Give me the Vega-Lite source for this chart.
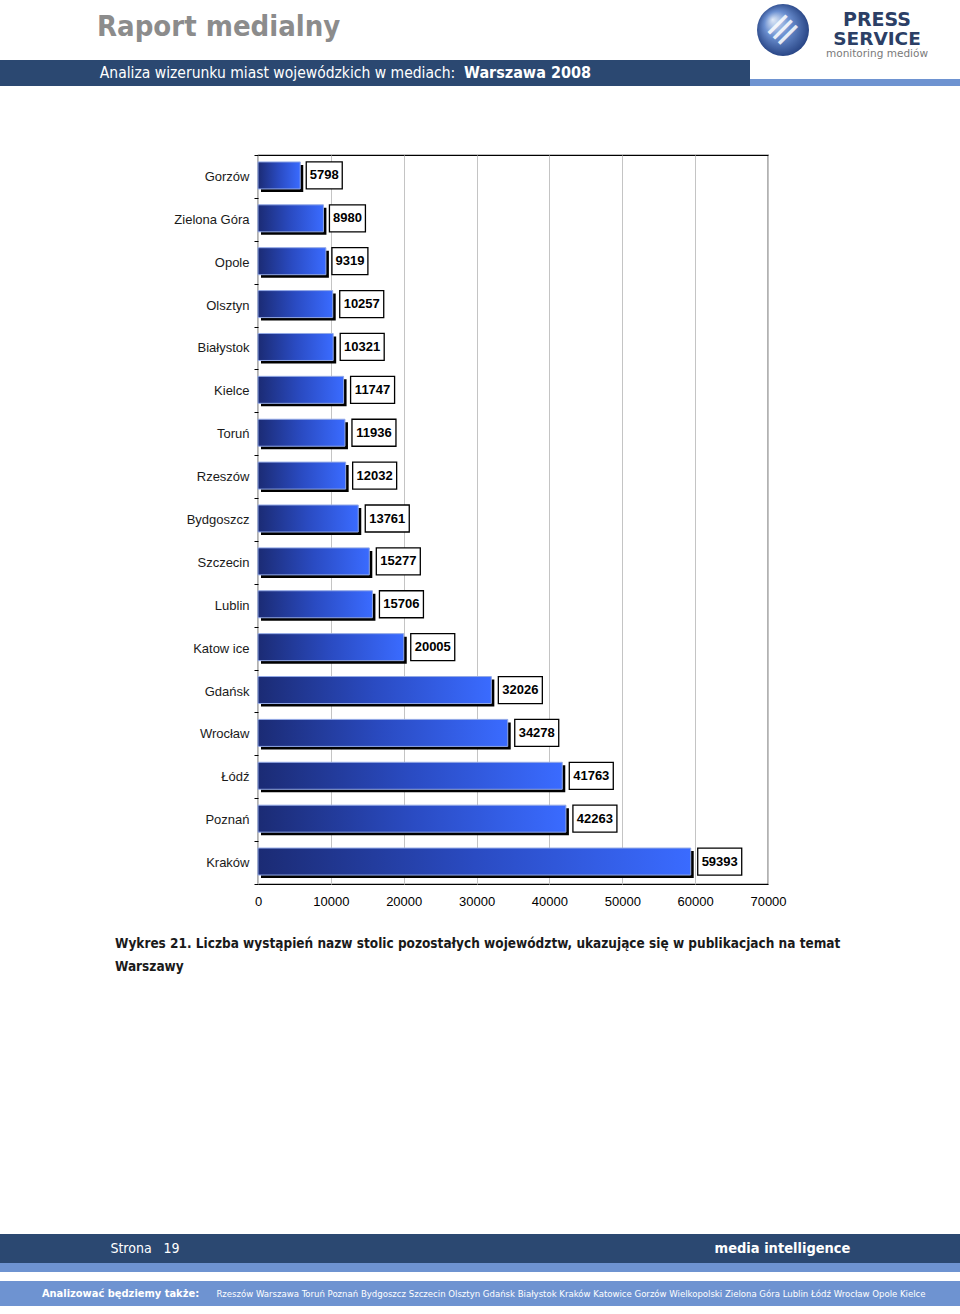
{
  "$schema": "https://vega.github.io/schema/vega-lite/v6.json",
  "padding": 0,
  "background": "white",
  "spacing": 0,
  "bounds": "full",
  "config": {"view": {"stroke": null}, "concat": {"spacing": 0}, "font": "Liberation Sans", "text": {"fontSize": 1}},
  "datasets": {
    "one": [{}],
    "cities": [
      {"city": "Gorzów", "value": 5798},
      {"city": "Zielona Góra", "value": 8980},
      {"city": "Opole", "value": 9319},
      {"city": "Olsztyn", "value": 10257},
      {"city": "Białystok", "value": 10321},
      {"city": "Kielce", "value": 11747},
      {"city": "Toruń", "value": 11936},
      {"city": "Rzeszów", "value": 12032},
      {"city": "Bydgoszcz", "value": 13761},
      {"city": "Szczecin", "value": 15277},
      {"city": "Lublin", "value": 15706},
      {"city": "Katow ice", "value": 20005},
      {"city": "Gdańsk", "value": 32026},
      {"city": "Wrocław", "value": 34278},
      {"city": "Łódź", "value": 41763},
      {"city": "Poznań", "value": 42263},
      {"city": "Kraków", "value": 59393}
    ]
  },
  "vconcat": [
    {"spacing": 0, "bounds": "flush", "hconcat": [
      {"width": 194, "height": 60, "data": {"name": "one"}, "mark": {"type": "text", "align": "left", "font": "DejaVu Sans Condensed", "fontSize": 29, "fontWeight": "bold", "color": "#8c8c8c", "dy": -3}, "encoding": {"text": {"value": "Raport medialny"}}},
      {"width": 563, "height": 60, "data": {"name": "one"}, "mark": "text", "encoding": {"text": {"value": ""}}},
      {"width": 52, "height": 60, "data": {"name": "one"}, "layer": [
        {"mark": {"type": "point", "shape": "circle", "size": 2700, "filled": true, "opacity": 1, "strokeWidth": 0, "fill": {"gradient": "radial", "x1": 0.3, "y1": 0.3, "r1": 0, "x2": 0.5, "y2": 0.5, "r2": 0.55, "stops": [{"offset": 0, "color": "#dfe9f7"}, {"offset": 0.45, "color": "#6b8fd0"}, {"offset": 1, "color": "#203c7c"}]}}, "encoding": {}},
        {"mark": {"type": "text", "font": "DejaVu Sans", "fontSize": 40, "color": "white", "opacity": 0.85, "angle": -45}, "encoding": {"text": {"value": "≡"}}}
      ]},
      {"width": 136, "height": 60, "data": {"name": "one"}, "layer": [
        {"mark": {"type": "text", "font": "DejaVu Sans", "fontSize": 19, "fontWeight": "bold", "color": "#2c3f66", "dy": -10}, "encoding": {"text": {"value": "PRESS"}}},
        {"mark": {"type": "text", "font": "DejaVu Sans", "fontSize": 18.5, "fontWeight": "bold", "color": "#2c3f66", "dy": 9}, "encoding": {"text": {"value": "SERVICE"}}},
        {"mark": {"type": "text", "font": "DejaVu Sans", "fontSize": 10.5, "color": "#7a7a7a", "dy": 24}, "encoding": {"text": {"value": "monitoring mediów"}}}
      ]},
      {"width": 15, "height": 60, "data": {"name": "one"}, "mark": "text", "encoding": {"text": {"value": ""}}}
    ]},
    {"spacing": 0, "bounds": "flush", "hconcat": [
      {"width": 97, "height": 26, "view": {"fill": "#2b4871"}, "data": {"name": "one"}, "mark": "text", "encoding": {"text": {"value": ""}}},
      {"width": 361, "height": 26, "view": {"fill": "#2b4871"}, "data": {"name": "one"}, "mark": {"type": "text", "font": "DejaVu Sans Condensed", "fontSize": 15.5, "color": "white"}, "encoding": {"text": {"value": "Analiza wizerunku miast wojewódzkich w mediach:"}}},
      {"width": 139, "height": 26, "view": {"fill": "#2b4871"}, "data": {"name": "one"}, "mark": {"type": "text", "font": "DejaVu Sans Condensed", "fontSize": 16, "fontWeight": "bold", "color": "white"}, "encoding": {"text": {"value": "Warszawa 2008"}}},
      {"width": 153, "height": 26, "view": {"fill": "#2b4871"}, "data": {"name": "one"}, "mark": "text", "encoding": {"text": {"value": ""}}},
      {"width": 210, "height": 26, "view": {"fill": {"gradient": "linear", "x1": 0, "y1": 0, "x2": 0, "y2": 1, "stops": [{"offset": 0, "color": "#ffffff"}, {"offset": 0.72, "color": "#ffffff"}, {"offset": 0.73, "color": "#6e93d1"}, {"offset": 1, "color": "#6e93d1"}]}}, "data": {"name": "one"}, "mark": "text", "encoding": {"text": {"value": ""}}}
    ]},
    {"width": 960, "height": 62, "data": {"name": "one"}, "mark": "text", "encoding": {"text": {"value": ""}}},
    {"spacing": 0, "bounds": "flush", "hconcat": [
      {"width": 258, "height": 729, "data": {"name": "one"}, "mark": "text", "encoding": {"text": {"value": ""}}},
      {
        "width": 510,
        "height": 729,
        "data": {"name": "cities"},
        "view": {"stroke": "#000000", "strokeWidth": 1.2},
        "encoding": {
          "y": {
            "field": "city", "type": "nominal", "sort": null,
            "scale": {"paddingInner": 0, "paddingOuter": 0},
            "axis": {"title": null, "domain": false, "ticks": true, "tickBand": "extent", "tickSize": 4, "tickColor": "#000000", "labelFont": "Liberation Sans", "labelFontSize": 13, "labelColor": "#1a1a1a", "labelPadding": 5, "grid": false}
          }
        },
        "layer": [
          {
            "mark": {"type": "bar", "height": 27, "fill": "#000000", "xOffset": 3, "x2Offset": 3, "yOffset": 2},
            "encoding": {"x": {"field": "value", "type": "quantitative", "scale": {"domain": [0, 70000], "nice": false}, "axis": {"title": null, "domain": false, "ticks": false, "grid": true, "gridColor": "#c4c4c4", "gridWidth": 1, "values": [0, 10000, 20000, 30000, 40000, 50000, 60000, 70000], "format": "d", "labelFont": "Liberation Sans", "labelFontSize": 13, "labelColor": "#000000", "labelPadding": 11, "labelFlush": false}}}
          },
          {
            "mark": {"type": "bar", "height": 27, "yOffset": -1, "stroke": "#93a9e6", "strokeWidth": 1, "fill": {"gradient": "linear", "x1": 0, "y1": 0, "x2": 1, "y2": 0, "stops": [{"offset": 0, "color": "#1b2b74"}, {"offset": 0.5, "color": "#2a4bc2"}, {"offset": 1, "color": "#3a6bff"}]}},
            "encoding": {"x": {"field": "value", "type": "quantitative"}}
          },
          {
            "transform": [{"filter": "datum.value < 10000"}],
            "mark": {"type": "bar", "height": 27, "yOffset": -1, "fill": "white", "stroke": "#000000", "strokeWidth": 1.3, "xOffset": 6, "x2Offset": 42},
            "encoding": {"x": {"field": "value", "type": "quantitative"}, "x2": {"field": "value"}}
          },
          {
            "transform": [{"filter": "datum.value >= 10000"}],
            "mark": {"type": "bar", "height": 27, "yOffset": -1, "fill": "white", "stroke": "#000000", "strokeWidth": 1.3, "xOffset": 7, "x2Offset": 51},
            "encoding": {"x": {"field": "value", "type": "quantitative"}, "x2": {"field": "value"}}
          },
          {
            "transform": [{"filter": "datum.value < 10000"}],
            "mark": {"type": "text", "align": "center", "dx": 24, "dy": -1, "font": "Liberation Sans", "fontSize": 13, "fontWeight": "bold", "color": "#000000"},
            "encoding": {"x": {"field": "value", "type": "quantitative"}, "text": {"field": "value", "type": "quantitative", "format": "d"}}
          },
          {
            "transform": [{"filter": "datum.value >= 10000"}],
            "mark": {"type": "text", "align": "center", "dx": 29, "dy": -1, "font": "Liberation Sans", "fontSize": 13, "fontWeight": "bold", "color": "#000000"},
            "encoding": {"x": {"field": "value", "type": "quantitative"}, "text": {"field": "value", "type": "quantitative", "format": "d"}}
          }
        ]
      },
      {"width": 192, "height": 729, "data": {"name": "one"}, "mark": "text", "encoding": {"text": {"value": ""}}}
    ]},
    {"width": 960, "height": 23, "data": {"name": "one"}, "mark": "text", "encoding": {"text": {"value": ""}}},
    {"width": 230, "height": 23, "data": {"name": "one"}, "mark": {"type": "text", "align": "left", "font": "DejaVu Sans Condensed", "fontSize": 13.5, "fontWeight": "bold", "color": "#1a1a1a"}, "encoding": {"text": {"value": "Wykres 21. Liczba wystąpień nazw stolic pozostałych województw, ukazujące się w publikacjach na temat"}}},
    {"width": 230, "height": 23, "data": {"name": "one"}, "mark": {"type": "text", "align": "left", "font": "DejaVu Sans Condensed", "fontSize": 13.5, "fontWeight": "bold", "color": "#1a1a1a"}, "encoding": {"text": {"value": "Warszawy"}}},
    {"width": 960, "height": 256, "data": {"name": "one"}, "mark": "text", "encoding": {"text": {"value": ""}}},
    {"spacing": 0, "bounds": "flush", "hconcat": [
      {"width": 110, "height": 29, "view": {"fill": "#2b4871"}, "data": {"name": "one"}, "mark": "text", "encoding": {"text": {"value": ""}}},
      {"width": 70, "height": 29, "view": {"fill": "#2b4871"}, "data": {"name": "one"}, "mark": {"type": "text", "font": "DejaVu Sans Condensed", "fontSize": 14, "color": "white"}, "encoding": {"text": {"value": "Strona\u00a0\u00a0\u00a019"}}},
      {"width": 532, "height": 29, "view": {"fill": "#2b4871"}, "data": {"name": "one"}, "mark": "text", "encoding": {"text": {"value": ""}}},
      {"width": 141, "height": 29, "view": {"fill": "#2b4871"}, "data": {"name": "one"}, "mark": {"type": "text", "font": "DejaVu Sans Condensed", "fontSize": 14.5, "fontWeight": "bold", "color": "white"}, "encoding": {"text": {"value": "media intelligence"}}},
      {"width": 107, "height": 29, "view": {"fill": "#2b4871"}, "data": {"name": "one"}, "mark": "text", "encoding": {"text": {"value": ""}}}
    ]},
    {"width": 960, "height": 9, "view": {"fill": "#6e93d1"}, "data": {"name": "one"}, "mark": "text", "encoding": {"text": {"value": ""}}},
    {"width": 960, "height": 9, "data": {"name": "one"}, "mark": "text", "encoding": {"text": {"value": ""}}},
    {"spacing": 0, "bounds": "flush", "hconcat": [
      {"width": 29, "height": 25, "view": {"fill": "#6e93d1"}, "data": {"name": "one"}, "mark": "text", "encoding": {"text": {"value": ""}}},
      {"width": 183, "height": 25, "view": {"fill": "#6e93d1"}, "data": {"name": "one"}, "mark": {"type": "text", "font": "DejaVu Sans Condensed", "fontSize": 11, "fontWeight": "bold", "color": "white"}, "encoding": {"text": {"value": "Analizować będziemy także:"}}},
      {"width": 718, "height": 25, "view": {"fill": "#6e93d1"}, "data": {"name": "one"}, "mark": {"type": "text", "font": "DejaVu Sans Condensed", "fontSize": 9.5, "color": "white"}, "encoding": {"text": {"value": "Rzeszów Warszawa Toruń Poznań Bydgoszcz Szczecin Olsztyn Gdańsk Białystok Kraków Katowice Gorzów Wielkopolski Zielona Góra Lublin Łódź Wrocław Opole Kielce"}}},
      {"width": 30, "height": 25, "view": {"fill": "#6e93d1"}, "data": {"name": "one"}, "mark": "text", "encoding": {"text": {"value": ""}}}
    ]},
    {"width": 960, "height": 8, "data": {"name": "one"}, "mark": "text", "encoding": {"text": {"value": ""}}}
  ]
}
